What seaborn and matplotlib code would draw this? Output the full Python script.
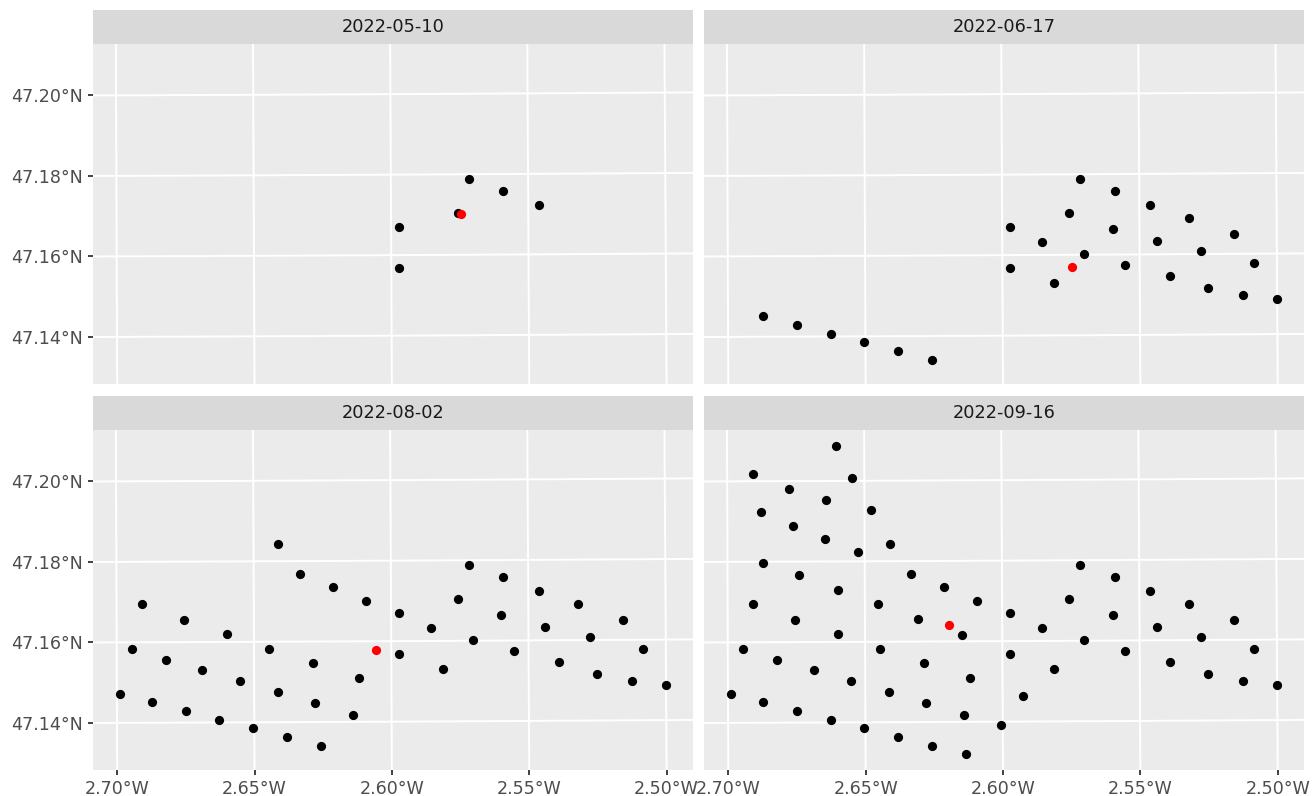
import numpy as np
import pandas as pd
import matplotlib
matplotlib.use("Agg")
import matplotlib.pyplot as plt
import seaborn as sns

# Sampling stations (WGS84 degrees)
station_lon = [
    -2.5714, -2.5590, -2.5462, -2.5320, -2.5154, -2.5755, -2.5598, -2.5972,
    -2.5854, -2.5703, -2.5438, -2.5275, -2.5084, -2.5973, -2.5552, -2.5812,
    -2.5390, -2.5251, -2.5124, -2.5001,
    -2.6409, -2.6330, -2.6212, -2.6092, -2.6908, -2.6755, -2.6599, -2.6946,
    -2.6820, -2.6688, -2.6552, -2.6444, -2.6285, -2.6117, -2.6989, -2.6874,
    -2.6749, -2.6627, -2.6504, -2.6381, -2.6258, -2.6414, -2.6278, -2.6141,
    -2.6604, -2.6906, -2.6544, -2.6776, -2.6641, -2.6878, -2.6477, -2.6759,
    -2.6645, -2.6525, -2.6869, -2.6741, -2.6597, -2.6454, -2.6306, -2.6145,
    -2.6135, -2.6005, -2.5925,
]
station_lat = [
    47.1787, 47.1757, 47.1723, 47.1689, 47.1649, 47.1704, 47.1663, 47.1670,
    47.1631, 47.1603, 47.1634, 47.1608, 47.1577, 47.1569, 47.1573, 47.1531,
    47.1545, 47.1516, 47.1498, 47.1486,
    47.1842, 47.1768, 47.1735, 47.1701, 47.1694, 47.1656, 47.1620, 47.1583,
    47.1557, 47.1531, 47.1502, 47.1583, 47.1547, 47.1508, 47.1473, 47.1452,
    47.1430, 47.1407, 47.1385, 47.1363, 47.1341, 47.1474, 47.1447, 47.1416,
    47.2088, 47.2019, 47.2008, 47.1981, 47.1952, 47.1924, 47.1927, 47.1888,
    47.1856, 47.1823, 47.1796, 47.1766, 47.1730, 47.1695, 47.1655, 47.1616,
    47.1319, 47.1391, 47.1464,
]

# Stations visited on each survey date (indices into the station lists)
survey_dates = ["2022-05-10", "2022-06-17", "2022-08-02", "2022-09-16"]
stations_0510 = [0, 1, 2, 5, 7, 13]
stations_0617 = list(range(0, 20)) + [35, 36, 37, 38, 39, 40]
stations_0802 = list(range(0, 44))
stations_0916 = list(range(0, 63))
visited = [stations_0510, stations_0617, stations_0802, stations_0916]

lat_breaks = [47.12, 47.14, 47.16, 47.18, 47.20, 47.22]
lon_breaks = [-2.75, -2.70, -2.65, -2.60, -2.55, -2.50, -2.45]


def utm30n(lon, lat):
    """WGS84 lon/lat -> UTM zone 30N (metres)."""
    lon = np.asarray(lon, dtype=float)
    lat = np.asarray(lat, dtype=float)
    a = 6378137.0
    f = 1 / 298.257223563
    e2 = f * (2 - f)
    e4, e6 = e2 ** 2, e2 ** 3
    ep2 = e2 / (1 - e2)
    k0 = 0.9996
    phi = np.radians(lat)
    lam = np.radians(lon) - np.radians(-3.0)
    N = a / np.sqrt(1 - e2 * np.sin(phi) ** 2)
    T = np.tan(phi) ** 2
    C = ep2 * np.cos(phi) ** 2
    A = np.cos(phi) * lam
    M = a * ((1 - e2 / 4 - 3 * e4 / 64 - 5 * e6 / 256) * phi
             - (3 * e2 / 8 + 3 * e4 / 32 + 45 * e6 / 1024) * np.sin(2 * phi)
             + (15 * e4 / 256 + 45 * e6 / 1024) * np.sin(4 * phi)
             - (35 * e6 / 3072) * np.sin(6 * phi))
    x = k0 * N * (A + (1 - T + C) * A ** 3 / 6
                  + (5 - 18 * T + T ** 2 + 72 * C - 58 * ep2) * A ** 5 / 120) + 500000
    y = k0 * (M + N * np.tan(phi) * (A ** 2 / 2
                                     + (5 - T + 9 * C + 4 * C ** 2) * A ** 4 / 24
                                     + (61 - 58 * T + T ** 2 + 600 * C - 330 * ep2) * A ** 6 / 720))
    return x, y


# Long table of visited stations per date
rows = []
for date, idx in zip(survey_dates, visited):
    for i in idx:
        rows.append((date, station_lon[i], station_lat[i]))
points = pd.DataFrame(rows, columns=["date", "lon", "lat"])
points["x"], points["y"] = utm30n(points["lon"], points["lat"])

# Centroid of each survey
centres = points.groupby("date", sort=False)[["lon", "lat"]].mean().reset_index()
centres["x"], centres["y"] = utm30n(centres["lon"], centres["lat"])

# Shared limits, expanded by 5 %
all_x = np.concatenate([points["x"], centres["x"]])
all_y = np.concatenate([points["y"], centres["y"]])
x0, x1 = all_x.min(), all_x.max()
y0, y1 = all_y.min(), all_y.max()
x0, x1 = x0 - 0.05 * (x1 - x0), x1 + 0.05 * (x1 - x0)
y0, y1 = y0 - 0.05 * (y1 - y0), y1 + 0.05 * (y1 - y0)

sns.set_theme(style="white")
plt.rcParams["font.family"] = ["DejaVu Sans"]

FW, FH = 1312, 796
fig = plt.figure(figsize=(FW / 100, FH / 100), dpi=100)
fig.patch.set_facecolor("white")

PW, PH = 600.5, 340.0
STRIP_H = 34.0
panel_left = [92.6, 703.7]
panel_top = [44.0, 430.0]

scale = max((x1 - x0) / PW, (y1 - y0) / PH)
cx, cy = (x0 + x1) / 2, (y0 + y1) / 2
xlim = (cx - scale * PW / 2, cx + scale * PW / 2)
ylim = (cy - scale * PH / 2, cy + scale * PH / 2)


def fig_rect(left, top, w, h):
    return [left / FW, 1 - (top + h) / FH, w / FW, h / FH]


dense_lon = np.linspace(-3.0, -2.2, 600)
dense_lat = np.linspace(47.0, 47.35, 600)

for k, date in enumerate(survey_dates):
    r, c = divmod(k, 2)
    left, top = panel_left[c], panel_top[r]
    ax = fig.add_axes(fig_rect(left, top, PW, PH))
    ax.set_facecolor("#EBEBEB")
    for s in ax.spines.values():
        s.set_visible(False)

    # graticule
    for lat in lat_breaks:
        gx, gy = utm30n(dense_lon, np.full_like(dense_lon, lat))
        ax.plot(gx, gy, color="white", lw=1.4, zorder=1, solid_capstyle="butt")
    for lon in lon_breaks:
        gx, gy = utm30n(np.full_like(dense_lat, lon), dense_lat)
        ax.plot(gx, gy, color="white", lw=1.4, zorder=1, solid_capstyle="butt")

    sub = points[points["date"] == date]
    sns.scatterplot(data=sub, x="x", y="y", color="black", s=44, linewidth=0,
                    ax=ax, legend=False, zorder=3)
    cen = centres[centres["date"] == date]
    sns.scatterplot(data=cen, x="x", y="y", color="#FF0000", s=44, linewidth=0,
                    ax=ax, legend=False, zorder=4)

    ax.set_xlim(*xlim)
    ax.set_ylim(*ylim)
    ax.set_aspect("auto")
    ax.set_xlabel("")
    ax.set_ylabel("")

    # ticks where the graticule meets the panel edges
    if c == 0:
        ypos, ylab = [], []
        for lat in lat_breaks:
            gx, gy = utm30n(dense_lon, np.full_like(dense_lon, lat))
            yy = np.interp(xlim[0], gx, gy)
            if ylim[0] <= yy <= ylim[1]:
                ypos.append(yy)
                ylab.append(f"{lat:.2f}°N")
        ax.set_yticks(ypos)
        ax.set_yticklabels(ylab)
    else:
        ax.set_yticks([])
    if r == 1:
        xpos, xlab = [], []
        for lon in lon_breaks:
            gx, gy = utm30n(np.full_like(dense_lat, lon), dense_lat)
            xx = np.interp(ylim[0], gy, gx)
            if xlim[0] <= xx <= xlim[1]:
                xpos.append(xx)
                xlab.append(f"{abs(lon):.2f}°W")
        ax.set_xticks(xpos)
        ax.set_xticklabels(xlab)
    else:
        ax.set_xticks([])
    ax.tick_params(axis="both", length=3.7, width=1.3, color="#333333",
                   labelcolor="#4D4D4D", labelsize=12.6, pad=3.3,
                   left=(c == 0), bottom=(r == 1))

    # facet strip
    sax = fig.add_axes(fig_rect(left, top - STRIP_H, PW, STRIP_H))
    sax.set_facecolor("#D9D9D9")
    for s in sax.spines.values():
        s.set_visible(False)
    sax.set_xticks([])
    sax.set_yticks([])
    sax.text(0.5, 0.5, date, ha="center", va="center", fontsize=12.8,
             color="#1A1A1A", transform=sax.transAxes)

fig.savefig("out.png", dpi=100, facecolor="white")
